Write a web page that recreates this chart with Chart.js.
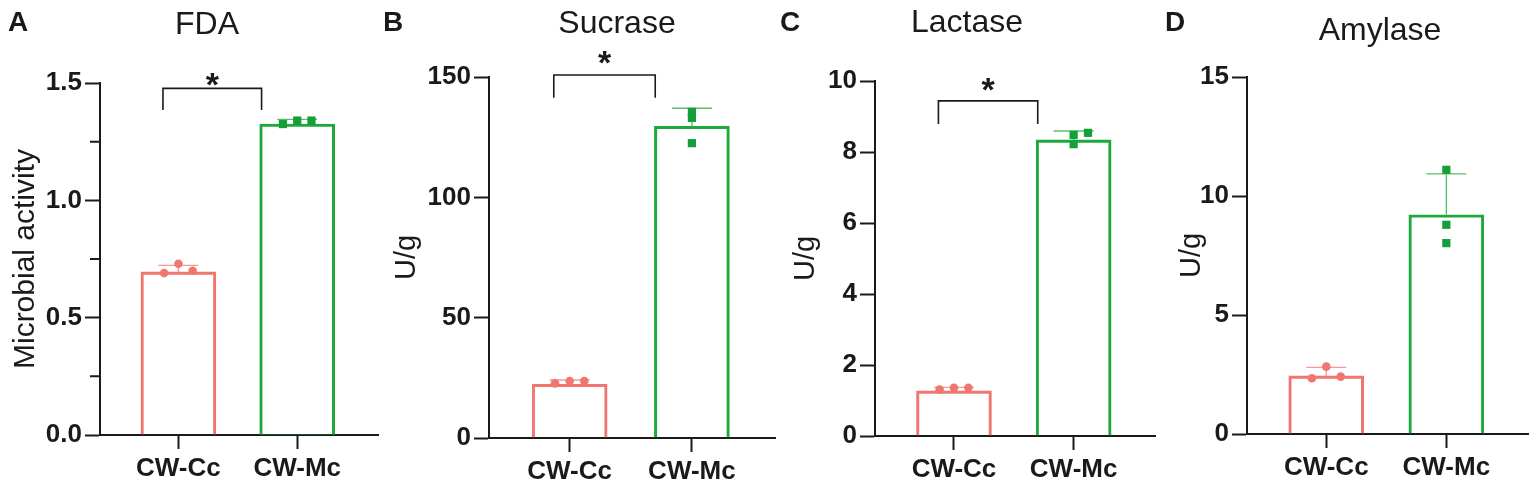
<!DOCTYPE html>
<html>
<head>
<meta charset="utf-8">
<script src="https://cdn.jsdelivr.net/npm/chart.js@4.4.1/dist/chart.umd.min.js"></script>
<style>
  html, body { margin: 0; padding: 0; background: #fff; }
  #wrap { position: relative; width: 1535px; height: 489px; overflow: hidden; }
  .panel { position: absolute; top: 0; height: 489px; }
</style>
</head>
<body>
<div id="wrap">
  <div class="panel" style="left:0px;width:414px"><canvas id="chartA"></canvas></div>
  <div class="panel" style="left:385px;width:464px"><canvas id="chartB"></canvas></div>
  <div class="panel" style="left:770px;width:394px"><canvas id="chartC"></canvas></div>
  <div class="panel" style="left:1160px;width:440px"><canvas id="chartD"></canvas></div>
</div>
<script>
const groups = ['CW-Cc', 'CW-Mc'];

// A - FDA
const fdaMean = [0.695, 1.325];
const fdaSd = [0.028, 0.02];
const fdaCc = [0.69, 0.73, 0.70];
const fdaMc = [1.325, 1.34, 1.34];
const fdaTicks = [0, 0.5, 1.0, 1.5];
const fdaTickLabels = ['0.0', '0.5', '1.0', '1.5'];
const fdaMinor = [0.25, 0.75, 1.25];
const fdaSig = { top: 1.477, foot: 1.385, star: 1.523 };

// B - Sucrase
const sucMean = [22.3, 129.5];
const sucSd = [1.8, 7.5];
const sucCc = [22.7, 23.7, 23.7];
const sucMc = [135.5, 133, 122.5];
const sucTicks = [0, 50, 100, 150];
const sucTickLabels = ['0', '50', '100', '150'];
const sucSig = { top: 150.8, foot: 141.4, star: 158.9 };

// C - Lactase
const lacMean = [1.27, 8.34];
const lacSd = [0.1, 0.25];
const lacCc = [1.31, 1.36, 1.36];
const lacMc = [8.22, 8.48, 8.54];
const lacTicks = [0, 2, 4, 6, 8, 10];
const lacTickLabels = ['0', '2', '4', '6', '8', '10'];
const lacSig = { top: 9.44, foot: 8.79, star: 9.96 };

// D - Amylase
const amyMean = [2.44, 9.21];
const amySd = [0.36, 1.72];
const amyCc = [2.34, 2.83, 2.41];
const amyMc = [11.1, 8.79, 8.02];
const amyTicks = [0, 5, 10, 15];
const amyTickLabels = ['0', '5', '10', '15'];

const red = '#f07670', green = '#1fa83c', greenDot = '#13a03a';
const redLight = '#f39a95', greenLight = '#5cbf6c';
const ink = '#1a1a1a';
const FONT = "'Liberation Sans', Arial, Helvetica, sans-serif";

function makePanel(cfg) {
  const yAxisW = cfg.chartLeft - cfg.left;
  const xAxisH = 489 - cfg.chartBottom;
  const rightW = cfg.width - (cfg.chartRight - cfg.left);

  const extras = {
    id: 'extras',
    afterDatasetDraw(chart, args) {
      if (args.index !== 0) return;
      const y = chart.scales.y, ctx = chart.ctx;
      ctx.save();
      ctx.lineWidth = 1.4;
      args.meta.data.forEach((bar, i) => {
        const yMean = y.getPixelForValue(cfg.mean[i]);
        const yTop = y.getPixelForValue(cfg.mean[i] + cfg.sd[i]);
        ctx.strokeStyle = i === 0 ? redLight : greenLight;
        ctx.beginPath();
        ctx.moveTo(bar.x, yMean);
        ctx.lineTo(bar.x, yTop);
        ctx.moveTo(bar.x - 20, yTop);
        ctx.lineTo(bar.x + 20, yTop);
        ctx.stroke();
      });
      ctx.restore();
    },
    afterDraw(chart) {
      const { ctx, scales: { x, y }, chartArea } = chart;
      ctx.save();
      ctx.strokeStyle = ink;
      ctx.fillStyle = ink;
      if (cfg.minor) {
        ctx.lineWidth = 2;
        ctx.beginPath();
        cfg.minor.forEach(v => {
          const py = y.getPixelForValue(v);
          ctx.moveTo(chartArea.left - 10, py);
          ctx.lineTo(chartArea.left, py);
        });
        ctx.stroke();
      }
      if (cfg.sig) {
        const x0 = x.getPixelForValue(-0.13), x1 = x.getPixelForValue(0.7);
        const yt = y.getPixelForValue(cfg.sig.top), yf = y.getPixelForValue(cfg.sig.foot);
        ctx.lineWidth = 1.6;
        ctx.beginPath();
        ctx.moveTo(x0, yf);
        ctx.lineTo(x0, yt);
        ctx.lineTo(x1, yt);
        ctx.lineTo(x1, yf);
        ctx.stroke();
        ctx.font = 'bold 34px ' + FONT;
        ctx.textAlign = 'center';
        ctx.textBaseline = 'alphabetic';
        ctx.fillText('*', (x0 + x1) / 2, y.getPixelForValue(cfg.sig.star) + 0.55 * 34);
      }
      ctx.font = 'bold 28px ' + FONT;
      ctx.textAlign = 'left';
      ctx.textBaseline = 'middle';
      ctx.fillText(cfg.letter, cfg.letterX - cfg.left, 23);
      ctx.restore();
    }
  };

  const tickFont = { family: FONT, size: 26, weight: 'bold' };

  new Chart(document.getElementById(cfg.id), {
    type: 'bar',
    data: {
      datasets: [
        {
          type: 'bar',
          data: cfg.mean.map((v, i) => ({ x: i, y: v })),
          backgroundColor: 'rgba(255,255,255,0)',
          borderColor: [red, green],
          borderWidth: 2.4,
          barThickness: 75,
          order: 2
        },
        {
          type: 'scatter',
          data: cfg.cc.map((v, k) => ({ x: 0 + cfg.jitCc[k], y: v })),
          pointStyle: 'circle',
          pointRadius: 4.3,
          pointBackgroundColor: red,
          pointBorderWidth: 0,
          order: 1
        },
        {
          type: 'scatter',
          data: cfg.mc.map((v, k) => ({ x: 1 + cfg.jitMc[k], y: v })),
          pointStyle: 'rect',
          pointRadius: 5.8,
          pointBackgroundColor: greenDot,
          pointBorderWidth: 0,
          order: 1
        }
      ]
    },
    options: {
      responsive: true,
      maintainAspectRatio: false,
      animation: false,
      events: [],
      layout: { padding: 0 },
      plugins: {
        legend: { display: false },
        tooltip: { enabled: false },
        title: {
          display: true,
          text: cfg.title,
          color: ink,
          font: { family: FONT, size: 32, weight: 'normal', lineHeight: 1 },
          padding: { top: cfg.titleY - 16, bottom: cfg.chartTop - cfg.titleY - 16 }
        }
      },
      scales: {
        x: {
          type: 'linear',
          min: -0.66,
          max: 1.68,
          offset: false,
          afterBuildTicks: s => { s.ticks = groups.map((g, i) => ({ value: i })); },
          afterFit: s => { s.height = xAxisH; },
          ticks: { callback: v => groups[v], font: tickFont, color: ink, padding: 4, maxRotation: 0, autoSkip: false },
          grid: { offset: false, drawOnChartArea: false, tickLength: 14, tickWidth: 2, tickColor: ink },
          border: { color: ink, width: 2 }
        },
        y: {
          min: 0,
          max: cfg.ticks[cfg.ticks.length - 1],
          afterBuildTicks: s => { s.ticks = cfg.ticks.map(v => ({ value: v })); },
          afterFit: s => { s.width = yAxisW; },
          ticks: { callback: (v, i) => cfg.tickLabels[i], font: tickFont, color: ink, padding: 3, autoSkip: false },
          grid: { drawOnChartArea: false, tickLength: 15, tickWidth: 2, tickColor: ink },
          border: { color: ink, width: 2 },
          title: {
            display: true,
            text: cfg.yTitle,
            color: ink,
            font: { family: FONT, size: cfg.yTitleSize, weight: 'normal', lineHeight: 1 },
            padding: { top: cfg.yTitleX - cfg.left - cfg.yTitleSize / 2, bottom: 0 }
          }
        },
        // empty spacer on the right so the title centres where the original sits
        spacer: {
          type: 'linear',
          position: 'right',
          display: true,
          ticks: { display: false },
          grid: { display: false },
          border: { display: false },
          afterFit: s => { s.width = rightW; }
        }
      }
    },
    plugins: [extras]
  });
}

makePanel({
  id: 'chartA', left: 0, width: 414, chartLeft: 100, chartRight: 378, chartTop: 83, chartBottom: 435,
  title: 'FDA', titleY: 25, letter: 'A', letterX: 8, yTitle: 'Microbial activity', yTitleSize: 30, yTitleX: 26,
  mean: fdaMean, sd: fdaSd, cc: fdaCc, mc: fdaMc, jitCc: [-0.12, 0, 0.12], jitMc: [-0.12, 0, 0.12],
  ticks: fdaTicks, tickLabels: fdaTickLabels, minor: fdaMinor, sig: fdaSig
});
makePanel({
  id: 'chartB', left: 385, width: 464, chartLeft: 489, chartRight: 775, chartTop: 77, chartBottom: 438,
  title: 'Sucrase', titleY: 24, letter: 'B', letterX: 383, yTitle: 'U/g', yTitleSize: 29, yTitleX: 407,
  mean: sucMean, sd: sucSd, cc: sucCc, mc: sucMc, jitCc: [-0.12, 0, 0.12], jitMc: [0, 0, 0],
  ticks: sucTicks, tickLabels: sucTickLabels, sig: sucSig
});
makePanel({
  id: 'chartC', left: 770, width: 394, chartLeft: 875, chartRight: 1155, chartTop: 81, chartBottom: 436,
  title: 'Lactase', titleY: 23, letter: 'C', letterX: 780, yTitle: 'U/g', yTitleSize: 29, yTitleX: 806,
  mean: lacMean, sd: lacSd, cc: lacCc, mc: lacMc, jitCc: [-0.12, 0, 0.12], jitMc: [0, 0, 0.12],
  ticks: lacTicks, tickLabels: lacTickLabels, sig: lacSig
});
makePanel({
  id: 'chartD', left: 1160, width: 440, chartLeft: 1247, chartRight: 1528, chartTop: 77, chartBottom: 434,
  title: 'Amylase', titleY: 31, letter: 'D', letterX: 1165, yTitle: 'U/g', yTitleSize: 29, yTitleX: 1192,
  mean: amyMean, sd: amySd, cc: amyCc, mc: amyMc, jitCc: [-0.12, 0, 0.12], jitMc: [0, 0, 0],
  ticks: amyTicks, tickLabels: amyTickLabels
});
</script>
</body>
</html>
